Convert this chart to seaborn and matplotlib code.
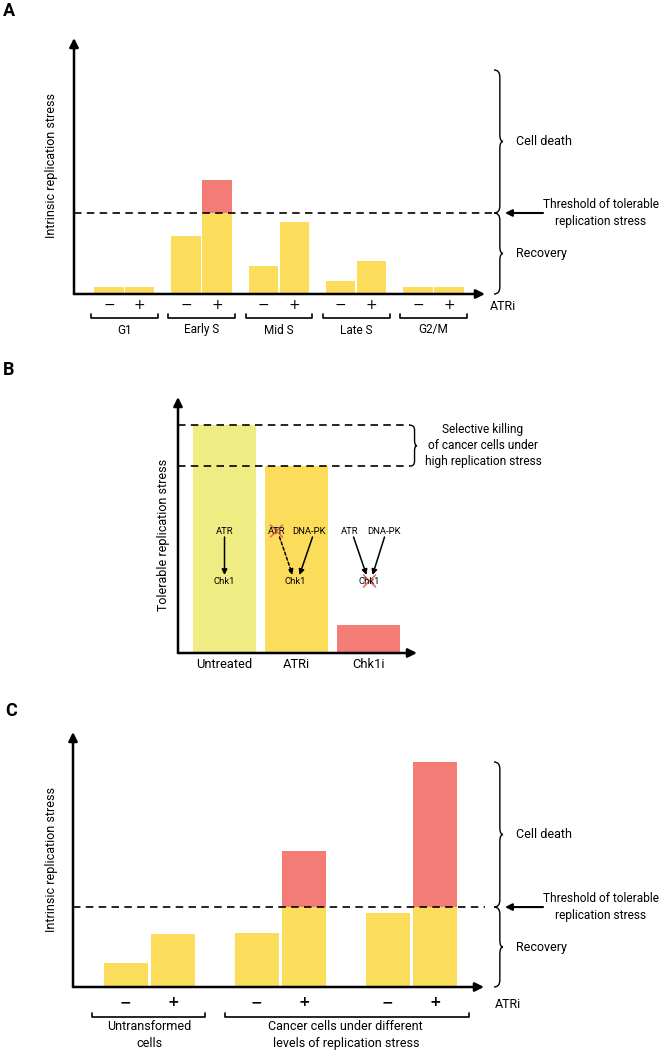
import numpy as np
import pandas as pd
import matplotlib.pyplot as plt
import seaborn as sns
from matplotlib.path import Path
from matplotlib.patches import PathPatch

sns.set_theme(style="white")
plt.rcParams["font.family"] = ["Roboto", "DejaVu Sans"]
plt.rcParams["text.color"] = "black"

YELLOW = "#fcdc5b"
RED = "#f37d76"
PALE = "#eeec82"
CROSS = "#ee6a5e"

# Panel A: replication stress per cell-cycle phase, without / with ATRi
phases = ["G1", "Early S", "Mid S", "Late S", "G2/M"]
atri = ["−", "+"]
stress_a = [0.9, 0.9, 7.2, 14.1, 3.5, 8.9, 1.6, 4.1, 0.9, 0.9]
threshold_a = 10

# Panel B: tolerable replication stress per treatment
treatments = ["Untreated", "ATRi", "Chk1i"]
tolerable_b = [89, 73, 11]

# Panel C: untransformed vs cancer cells
cell_groups = ["Untransformed\ncells", "Cancer moderate", "Cancer high"]
stress_c = [3.0, 6.6, 6.75, 17.0, 9.25, 28.2]
threshold_c = 10

W, H = 661, 1050
fig = plt.figure(figsize=(W / 100, H / 100), dpi=100)


def make_panel(x0, x1, ytop, ybot):
    return fig.add_axes([x0 / W, 1 - ybot / H, (x1 - x0) / W, (ybot - ytop) / H])


def finish_panel(ax, xlim, ylim):
    ax.set_xlim(*xlim)
    ax.set_ylim(*ylim)
    ax.set_xticks([])
    ax.set_yticks([])
    ax.set_xlabel("")
    ax.set_ylabel("")
    sns.despine(ax=ax, left=True, bottom=True)
    ax.patch.set_alpha(0)
    arrow = dict(arrowstyle="-|>", color="black", lw=1.8, mutation_scale=13, shrinkA=0, shrinkB=0)
    ax.annotate("", xy=(1, 0), xytext=(0, 0), xycoords="axes fraction", arrowprops=arrow, annotation_clip=False)
    ax.annotate("", xy=(0, 1), xytext=(0, 0), xycoords="axes fraction", arrowprops=arrow, annotation_clip=False)


def paired_bars(ax, groups, values, threshold, width, gap):
    df = pd.DataFrame({"group": np.repeat(groups, 2), "ATRi": atri * len(groups), "stress": values})
    df["below"] = df["stress"].clip(upper=threshold)
    common = dict(data=df, x="group", hue="ATRi", order=groups, hue_order=atri, width=width, gap=gap,
                  saturation=1, legend=False, errorbar=None, linewidth=0, ax=ax)
    sns.barplot(y="stress", palette=[RED, RED], **common)
    sns.barplot(y="below", palette=[YELLOW, YELLOW], **common)


def to_px(ax, x, y):
    d = ax.transData.transform((x, y))
    return d[0], H - d[1]


def dashed(ax, y, xend):
    ax.plot([0, xend], [y, y], transform=ax.get_yaxis_transform(), color="black", lw=1.2,
            ls=(0, (4.5, 3.2)), clip_on=False, zorder=5)


# ---- panel A
axA = make_panel(74, 485, 38, 294)
paired_bars(axA, phases, stress_a, threshold_a, 0.8, 0.05)
finish_panel(axA, (-0.651, 4.666), (0, 31.6))
dashed(axA, threshold_a, (492 - 74) / (485 - 74))

# ---- panel B
axB = make_panel(178, 417, 397, 653)
dfB = pd.DataFrame({"treatment": treatments, "tolerable": tolerable_b})
sns.barplot(data=dfB, x="treatment", y="tolerable", hue="treatment", palette=[PALE, YELLOW, RED],
            width=0.875, saturation=1, legend=False, linewidth=0, ax=axB)
finish_panel(axB, (-0.646, 2.673), (0, 100))
for v in tolerable_b[:2]:
    dashed(axB, v, (410 - 178) / (417 - 178))

# ---- panel C
axC = make_panel(73, 484, 732, 987)
paired_bars(axC, cell_groups, stress_c, threshold_c, 0.72, 0.06)
finish_panel(axC, (-0.582, 2.555), (0, 31.9))
dashed(axC, threshold_c, (485 - 73) / (484 - 73))

# ---- annotation overlay in pixel coordinates
over = fig.add_axes([0, 0, 1, 1])
over.set_xlim(0, W)
over.set_ylim(H, 0)
over.axis("off")


def brace(x_end, y0, y1, ym, w=9, r=7):
    xs = x_end + w * 0.65
    xt = x_end + w
    verts = [(x_end, y0), (xs, y0), (xs, y0 + r), (xs, ym - r), (xs, ym), (xt, ym),
             (xs, ym), (xs, ym + r), (xs, y1 - r), (xs, y1), (x_end, y1)]
    codes = [Path.MOVETO, Path.CURVE3, Path.CURVE3, Path.LINETO, Path.CURVE3, Path.CURVE3,
             Path.CURVE3, Path.CURVE3, Path.LINETO, Path.CURVE3, Path.CURVE3]
    over.add_patch(PathPatch(Path(verts, codes), fill=False, lw=1.0, color="black"))


def bracket(x0, x1, y, tick=4):
    over.plot([x0, x0, x1, x1], [y - tick, y, y, y - tick], color="black", lw=1.2)


def arrow(x0, y0, x1, y1, ls="-", lw=1.1, ms=8):
    over.annotate("", xy=(x1, y1), xytext=(x0, y0),
                  arrowprops=dict(arrowstyle="-|>", color="black", lw=lw, ls=ls, mutation_scale=ms,
                                  shrinkA=0, shrinkB=0))


def cross(x, y, s=6):
    over.plot([x - s, x + s], [y - s, y + s], color=CROSS, lw=1.2)
    over.plot([x - s, x + s], [y + s, y - s], color=CROSS, lw=1.2)


def side_labels(ax, threshold, top_px):
    _, thr = to_px(ax, 0, threshold)
    _, bot = to_px(ax, 0, 0)
    brace(494, top_px, thr, (top_px + thr) / 2)
    brace(494, thr, bot, (thr + bot) / 2)
    over.text(516, (top_px + thr) / 2, "Cell death", fontsize=9, va="center", ha="left")
    over.text(516, (thr + bot) / 2, "Recovery", fontsize=9, va="center", ha="left")
    arrow(543, thr, 505, thr, lw=1.5, ms=10)
    over.text(601, thr, "Threshold of tolerable\nreplication stress", fontsize=8.6, ha="center",
              va="center", linespacing=1.4)


def pair_labels(ax, groups, width, sign_dy, bold=False):
    _, bot = to_px(ax, 0, 0)
    for i, g in enumerate(groups):
        for j, s in enumerate(atri):
            x, _ = to_px(ax, i + (j - 0.5) * width / 2, 0)
            over.text(x, bot + sign_dy, s, fontsize=10, ha="center", va="center", family=["DejaVu Sans"],
                      fontweight="bold" if bold else "normal")
    xr = [to_px(ax, i + d * width / 2, 0)[0] for i in range(len(groups)) for d in (-1, 1)]
    return bot, xr


# panel A labels
over.text(3, 11, "A", fontsize=13, fontweight="bold", ha="left", va="center")
over.text(52, 165, "Intrinsic replication stress", rotation=90, fontsize=9, ha="center", va="center")
side_labels(axA, threshold_a, 70)
botA, xrA = pair_labels(axA, phases, 0.8, 11)
for i, g in enumerate(phases):
    bracket(xrA[2 * i] - 2.5, xrA[2 * i + 1] + 2.5, botA + 24)
    over.text((xrA[2 * i] + xrA[2 * i + 1]) / 2, botA + 36, g, fontsize=8.5, ha="center", va="center")
over.text(490, botA + 12, "ATRi", fontsize=9, ha="left", va="center")

# panel B labels
over.text(3, 370, "B", fontsize=13, fontweight="bold", ha="left", va="center")
over.text(163, 535, "Tolerable replication stress", rotation=90, fontsize=9, ha="center", va="center")
_, yU = to_px(axB, 0, tolerable_b[0])
_, yA = to_px(axB, 0, tolerable_b[1])
brace(410, yU, yA, (yU + yA) / 2, w=7, r=5)
over.text(483, (yU + yA) / 2, "Selective killing\nof cancer cells under\nhigh replication stress",
          fontsize=8.6, ha="center", va="center", linespacing=1.3)
cB = [to_px(axB, i, 0)[0] for i in range(3)]
for x, t in zip(cB, treatments):
    over.text(x, 664, t, fontsize=9.3, ha="center", va="center")
txt = dict(fontsize=6.8, ha="center", va="center")
over.text(cB[0], 531, "ATR", **txt)
arrow(cB[0], 537, cB[0], 575)
over.text(cB[0], 581, "Chk1", **txt)
over.text(cB[1] - 20, 531, "ATR", **txt)
cross(cB[1] - 20, 531)
over.text(cB[1] + 12, 531, "DNA-PK", **txt)
arrow(cB[1] - 17, 537, cB[1] - 4, 575, ls=(0, (2, 1.5)))
arrow(cB[1] + 16, 537, cB[1] + 3, 575)
over.text(cB[1] - 1, 581, "Chk1", **txt)
over.text(cB[2] - 19, 531, "ATR", **txt)
over.text(cB[2] + 15, 531, "DNA-PK", **txt)
arrow(cB[2] - 15, 537, cB[2] - 2, 575)
arrow(cB[2] + 16, 537, cB[2] + 4, 575)
over.text(cB[2] + 1, 581, "Chk1", **txt)
cross(cB[2] + 1, 581)

# panel C labels
over.text(5, 711, "C", fontsize=13, fontweight="bold", ha="left", va="center")
over.text(52, 859, "Intrinsic replication stress", rotation=90, fontsize=9, ha="center", va="center")
side_labels(axC, threshold_c, 762)
botC, xrC = pair_labels(axC, cell_groups, 0.72, 15, bold=True)
bracket(xrC[0] - 10, xrC[1] + 9, botC + 30)
bracket(xrC[2] - 8, xrC[5] + 11, botC + 30)
over.text((xrC[0] + xrC[1]) / 2, botC + 48, "Untransformed\ncells", fontsize=9, ha="center",
          va="center", linespacing=1.35)
over.text((xrC[2] + xrC[5]) / 2, botC + 48, "Cancer cells under different\nlevels of replication stress",
          fontsize=9, ha="center", va="center", linespacing=1.35)
over.text(495, botC + 17, "ATRi", fontsize=9, ha="left", va="center")

fig.savefig("out.png", dpi=100)
